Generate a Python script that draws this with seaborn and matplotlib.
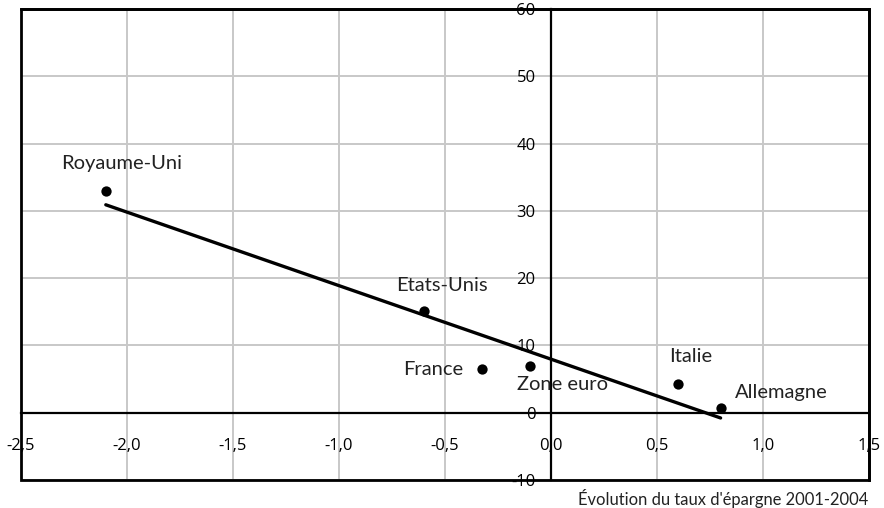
import matplotlib
matplotlib.use("Agg")
import matplotlib.pyplot as plt
import seaborn as sns
import pandas as pd
from matplotlib.patches import Rectangle

countries = ["Royaume-Uni", "Etats-Unis", "France", "Zone euro", "Italie", "Allemagne"]
savings_change = [-2.1, -0.6, -0.325, -0.1, 0.6, 0.8]
price_change = [33.0, 15.1, 6.5, 7.0, 4.3, 0.7]
x_ticks = [-2.5, -2.0, -1.5, -1.0, -0.5, 0.0, 0.5, 1.0, 1.5]
x_labels = ["-2,5", "-2,0", "-1,5", "-1,0", "-0,5", "0,0", "0,5", "1,0", "1,5"]
y_ticks = [-10, 0, 10, 20, 30, 40, 50, 60]
y_labels = ["-10", "0", "10", "20", "30", "40", "50", "60"]
caption = "Évolution du taux d'épargne 2001-2004"

df = pd.DataFrame({"pays": countries, "x": savings_change, "y": price_change})

sns.set_style("white")
plt.rcParams["font.family"] = ["Open Sans", "DejaVu Sans"]

fig = plt.figure(figsize=(8.84, 5.08), dpi=100)
ax = fig.add_axes([21/884, 1-480/508, (869-21)/884, (480-9)/508])

ax.grid(True, color="#c8c8c8", linewidth=1.4, zorder=0)
ax.set_axisbelow(True)

sns.regplot(data=df, x="x", y="y", scatter=False, ci=None, ax=ax,
            line_kws={"color": "black", "linewidth": 2.4, "zorder": 3})
sns.scatterplot(data=df, x="x", y="y", ax=ax, color="black", s=55,
                edgecolor="black", linewidth=0, zorder=4)

offsets = {
    "Royaume-Uni": (11.5, 19.5, "center"),
    "Etats-Unis": (13, 18.5, "center"),
    "France": (-13.5, -0.7, "right"),
    "Zone euro": (-9.4, -13.7, "left"),
    "Italie": (-6.5, 19.4, "left"),
    "Allemagne": (10, 11.5, "left"),
}
for name, xv, yv in zip(countries, savings_change, price_change):
    dx, dy, ha = offsets[name]
    ax.annotate(name, (xv, yv), xytext=(dx, dy), textcoords="offset points",
                ha=ha, va="center", fontsize=14.5, family=["Lato", "DejaVu Sans"],
                color="#222222")

ax.set_xlim(-2.5, 1.5)
ax.set_ylim(-10, 60)
ax.set_xticks(x_ticks)
ax.set_xticklabels(x_labels)
ax.set_yticks(y_ticks)
ax.set_yticklabels(y_labels)
ax.set_xlabel("")
ax.set_ylabel("")

ax.spines["left"].set_position(("data", 0))
ax.spines["bottom"].set_position(("data", 0))
for s in ["left", "bottom"]:
    ax.spines[s].set_linewidth(1.6)
    ax.spines[s].set_color("black")
for s in ["top", "right"]:
    ax.spines[s].set_linewidth(2.0)
    ax.spines[s].set_color("black")
ax.spines["left"].set_zorder(2)
ax.spines["bottom"].set_zorder(2)

ax.add_patch(Rectangle((0, 0), 1, 1, transform=ax.transAxes, fill=False,
                       edgecolor="black", linewidth=2.0, clip_on=False, zorder=5))

ax.tick_params(axis="x", direction="in", length=4.5, width=1.6, pad=18,
               labelsize=12, colors="black")
ax.tick_params(axis="y", direction="in", length=4.5, width=1.6, pad=11,
               labelsize=12, colors="black")
for lab in ax.get_yticklabels():
    lab.set_zorder(6)

fig.text(868/884, 1-498/508, caption, ha="right", va="center", fontsize=11.9,
         family=["Lato", "DejaVu Sans"], color="#222222")

fig.savefig("out.png", dpi=100)
